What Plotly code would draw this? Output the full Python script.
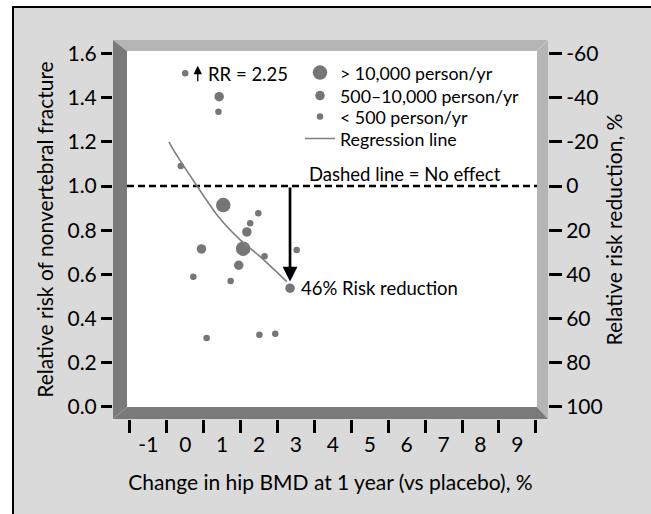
import plotly.graph_objects as go

# ---------------- data ----------------
x_label_vals = [-1, 0, 1, 2, 3, 4, 5, 6, 7, 8, 9]
x_label_text = ["-1", "0", "1", "2", "3", "4", "5", "6", "7", "8", "9"]
x_tick_marks = [-1.5, -0.5, 0.5, 1.5, 2.5, 3.5, 4.5, 5.5, 6.5, 7.5, 8.5, 9.5]

rr_tick_vals = [0.0, 0.2, 0.4, 0.6, 0.8, 1.0, 1.2, 1.4, 1.6]
rr_tick_text = ["0.0", "0.2", "0.4", "0.6", "0.8", "1.0", "1.2", "1.4", "1.6"]

rrr_tick_vals = [-60, -40, -20, 0, 20, 40, 60, 80, 100]
rrr_tick_text = ["-60", "-40", "-20", "0", "20", "40", "60", "80", "100"]

# studies > 10,000 person/yr
large_x = [1.03, 1.57]
large_y = [0.914, 0.716]
# studies 500-10,000 person/yr
medium_x = [0.92, 0.44, 1.67, 1.45, 2.84]
medium_y = [1.405, 0.715, 0.792, 0.641, 0.537]
# studies < 500 person/yr
small_x = [0.00, 0.90, -0.12, 1.98, 1.76, 2.15, 3.02, 0.22, 1.23, 0.58, 2.01, 2.44]
small_y = [1.511, 1.337, 1.091, 0.877, 0.831, 0.682, 0.710, 0.589, 0.570, 0.311, 0.326, 0.331]

# regression line
reg_x = [-0.44, -0.32, 0.27, 0.90, 1.49, 2.03, 2.75]
reg_y = [1.200, 1.164, 1.013, 0.861, 0.756, 0.680, 0.567]

no_effect_rr = 1.0
reduction_x = 2.84
reduction_tip_rr = 0.567
outlier_arrow_x = 0.34
outlier_arrow_rr = [1.468, 1.545]

# ---------------- layout geometry ----------------
W, H = 651, 514
ML, MR, MT, MB = 113, 103, 40, 95
PW, PH = W - ML - MR, H - MT - MB

X_RANGE = [-1.957, 9.83]
Y_RANGE = [-0.0558, 1.662]
Y2_RANGE = [(1 - Y_RANGE[0]) * 100, (1 - Y_RANGE[1]) * 100]


def px(xp):
    return (xp - ML) / PW


def py(yp):
    return (H - MB - yp) / PH


FONT = "Lato, 'Open Sans', sans-serif"
GREY_MARK = "#767676"
LIGHT = "#b5b5b5"
DARK = "#7a7a7a"
BG = "#dadada"
TICK_SIZE = 21
TITLE_SIZE = 21
NOTE_SIZE = 18.5
LEG_SIZE = 17.8

fig = go.Figure()

fig.add_trace(go.Scatter(
    x=large_x, y=large_y, mode="markers", name="> 10,000 person/yr",
    marker=dict(size=14.5, color=GREY_MARK, line=dict(width=0)),
    legend="legend"))
fig.add_trace(go.Scatter(
    x=medium_x, y=medium_y, mode="markers", name="500–10,000 person/yr",
    marker=dict(size=9.5, color=GREY_MARK, line=dict(width=0)),
    legend="legend2"))
fig.add_trace(go.Scatter(
    x=small_x, y=small_y, mode="markers", name="< 500 person/yr",
    marker=dict(size=6.5, color=GREY_MARK, line=dict(width=0)),
    legend="legend3"))
fig.add_trace(go.Scatter(
    x=reg_x, y=reg_y, mode="lines", name="Regression line",
    line=dict(color="#7f7f7f", width=1.6, shape="spline"),
    legend="legend4"))
# empty trace so the right-hand (relative risk reduction) axis is drawn
fig.add_trace(go.Scatter(x=[], y=[], yaxis="y2", showlegend=False, hoverinfo="skip"))

# frame geometry (inner white area)
il, ir, it, ib = px(127), px(537), py(51), py(407)

shapes = [
    # white outside of page border
    dict(type="rect", xref="paper", yref="paper", x0=px(-10), x1=px(12), y0=py(530), y1=py(-10),
         fillcolor="white", line=dict(width=0), layer="below"),
    dict(type="rect", xref="paper", yref="paper", x0=px(-10), x1=px(670), y0=py(6), y1=py(-10),
         fillcolor="white", line=dict(width=0), layer="below"),
    dict(type="line", xref="paper", yref="paper", x0=px(13), x1=px(13), y0=py(6), y1=py(530),
         line=dict(color="black", width=2), layer="below"),
    dict(type="line", xref="paper", yref="paper", x0=px(12), x1=px(670), y0=py(7), y1=py(7),
         line=dict(color="black", width=2), layer="below"),
    # bevelled frame
    dict(type="path", xref="paper", yref="paper",
         path=f"M0,1 L1,1 L{ir},{it} L{il},{it} Z", fillcolor=LIGHT, line=dict(width=0), layer="below"),
    dict(type="path", xref="paper", yref="paper",
         path=f"M1,1 L1,0 L{ir},{ib} L{ir},{it} Z", fillcolor=LIGHT, line=dict(width=0), layer="below"),
    dict(type="path", xref="paper", yref="paper",
         path=f"M0,0 L0,1 L{il},{it} L{il},{ib} Z", fillcolor=DARK, line=dict(width=0), layer="below"),
    dict(type="path", xref="paper", yref="paper",
         path=f"M0,0 L1,0 L{ir},{ib} L{il},{ib} Z", fillcolor=DARK, line=dict(width=0), layer="below"),
    # no-effect dashed line
    dict(type="line", xref="paper", yref="y", x0=il, x1=ir, y0=no_effect_rr, y1=no_effect_rr,
         line=dict(color="black", width=2.4, dash="7px,4px"), layer="below"),
]

annotations = [
    dict(x=reduction_x, y=reduction_tip_rr, ax=reduction_x, ay=no_effect_rr, xref="x", yref="y",
         axref="x", ayref="y", text="", showarrow=True, arrowhead=2, arrowsize=1.1,
         arrowwidth=2.7, arrowcolor="black", standoff=0, startstandoff=0),
    dict(x=outlier_arrow_x, y=outlier_arrow_rr[1], ax=outlier_arrow_x, ay=outlier_arrow_rr[0],
         xref="x", yref="y", axref="x", ayref="y", text="", showarrow=True, arrowhead=2,
         arrowsize=1.3, arrowwidth=1.3, arrowcolor="black", standoff=0, startstandoff=0),
    dict(x=0.56, y=1.508, xref="x", yref="y", text="RR = 2.25", showarrow=False,
         xanchor="left", yanchor="middle", font=dict(size=NOTE_SIZE, color="black")),
    dict(x=3.30, y=1.055, xref="x", yref="y", text="Dashed line = No effect", showarrow=False,
         xanchor="left", yanchor="middle", font=dict(size=NOTE_SIZE, color="black")),
    dict(x=3.09, y=0.539, xref="x", yref="y", text="46% Risk reduction", showarrow=False,
         xanchor="left", yanchor="middle", font=dict(size=NOTE_SIZE, color="black")),
]

leg_common = dict(xanchor="left", yanchor="middle", bgcolor="rgba(0,0,0,0)",
                  font=dict(size=LEG_SIZE, color="black", family=FONT), borderwidth=0,
                  itemclick=False, itemdoubleclick=False)
leg_x = px(300)

fig.update_layout(
    width=W, height=H,
    margin=dict(l=ML, r=MR, t=MT, b=MB, autoexpand=False),
    paper_bgcolor=BG, plot_bgcolor="white",
    font=dict(family=FONT, color="black", size=18),
    showlegend=True,
    legend=dict(x=leg_x, y=py(73), **leg_common),
    legend2=dict(x=leg_x, y=py(96), **leg_common),
    legend3=dict(x=leg_x, y=py(117), **leg_common),
    legend4=dict(x=leg_x, y=py(139), **leg_common),
    xaxis=dict(
        range=X_RANGE, showgrid=False, zeroline=False, showline=False,
        tickmode="array", tickvals=x_label_vals, ticktext=x_label_text, ticks="",
        ticklabelstandoff=11, tickfont=dict(size=TICK_SIZE, color="black"),
        minor=dict(tickmode="array", tickvals=x_tick_marks, ticks="outside",
                   ticklen=13, tickwidth=2.8, tickcolor="black", showgrid=False),
        title=dict(text="Change in hip BMD at 1 year (vs placebo), %",
                   font=dict(size=TITLE_SIZE, color="black"), standoff=20),
        fixedrange=True,
    ),
    yaxis=dict(
        range=Y_RANGE, showgrid=False, zeroline=False, showline=False,
        tickmode="array", tickvals=rr_tick_vals, ticktext=rr_tick_text,
        ticks="outside", ticklen=11, tickwidth=2.8, tickcolor="black",
        tickfont=dict(size=TICK_SIZE, color="black"),
        title=dict(text="Relative risk of nonvertebral fracture",
                   font=dict(size=TITLE_SIZE, color="black"), standoff=8),
        fixedrange=True,
    ),
    yaxis2=dict(
        range=Y2_RANGE, overlaying="y", side="right", anchor="x",
        showgrid=False, zeroline=False, showline=False,
        tickmode="array", tickvals=rrr_tick_vals, ticktext=rrr_tick_text,
        ticks="outside", ticklen=13, tickwidth=2.8, tickcolor="black",
        tickfont=dict(size=TICK_SIZE, color="black"),
        title=dict(text="Relative risk reduction, %",
                   font=dict(size=TITLE_SIZE, color="black"), standoff=5),
        fixedrange=True,
    ),
    shapes=shapes,
    annotations=annotations,
)

fig.write_html("out.html", config={"displayModeBar": False},
               post_script="document.body.style.margin='0px';")
